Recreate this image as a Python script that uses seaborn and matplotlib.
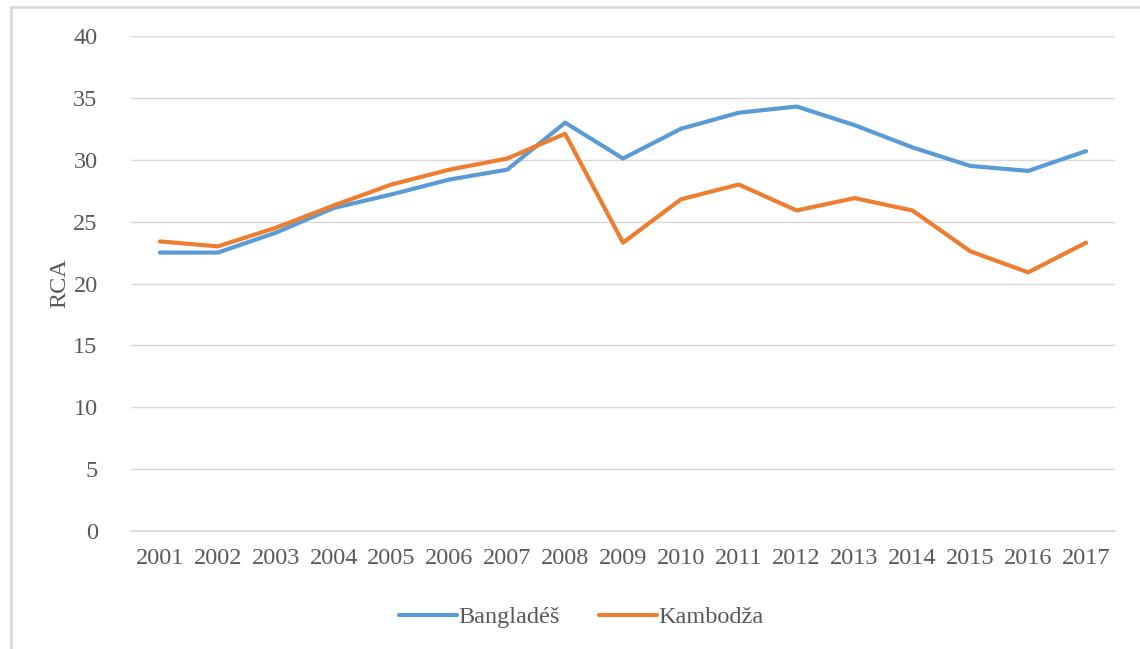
# Índice RCA: Bangladéš vs Kambodža
import pandas as pd
import matplotlib.pyplot as plt
import seaborn as sns
from matplotlib.lines import Line2D

roky = [2001, 2002, 2003, 2004, 2005, 2006, 2007, 2008, 2009,
        2010, 2011, 2012, 2013, 2014, 2015, 2016, 2017]
banglades = [22.5, 22.5, 24.1, 26.1, 27.2, 28.4, 29.2, 33.0, 30.1,
             32.5, 33.8, 34.3, 32.8, 31.0, 29.5, 29.1, 30.7]
kambodza = [23.4, 23.0, 24.5, 26.3, 28.0, 29.2, 30.1, 32.1, 23.3,
            26.8, 28.0, 25.9, 26.9, 25.9, 22.6, 20.9, 23.3]
zeme = ['Bangladéš', 'Kambodža']
yticks = [0, 5, 10, 15, 20, 25, 30, 35, 40]

df = pd.DataFrame({
    'rok': roky * 2,
    'RCA': banglades + kambodza,
    'zeme': [zeme[0]] * len(roky) + [zeme[1]] * len(roky),
})

sns.set_theme(style="white")
plt.rcParams['font.family'] = ['Liberation Serif', 'DejaVu Serif']
sedy = '#595959'
fs = 17.5

fig = plt.figure(figsize=(11.4, 6.49), dpi=100)
ax = fig.add_axes([131 / 1140, 1 - 531 / 649, 984 / 1140, 495 / 649])

sns.lineplot(data=df, x='rok', y='RCA', hue='zeme', hue_order=zeme,
             palette=['#5B9BD5', '#ED7D31'], linewidth=3, ax=ax, legend=False)

ax.set_xlim(roky[0] - 0.5, roky[-1] + 0.5)
ax.set_ylim(0, 40)
ax.set_xticks(roky)
ax.set_xticklabels([str(r) for r in roky])
ax.set_yticks(yticks)
ax.grid(axis='y', color='#D9D9D9', linewidth=1)
ax.set_axisbelow(True)
for s in ax.spines.values():
    s.set_visible(False)
ax.spines['bottom'].set_visible(True)
ax.spines['bottom'].set_color('#D9D9D9')
ax.tick_params(axis='both', colors=sedy, labelsize=fs, length=0)
ax.tick_params(axis='x', pad=12)
ax.tick_params(axis='y', pad=24)
ax.set_xlabel('')
ax.set_ylabel('RCA', fontsize=fs, color=sedy, labelpad=2)

handles = [Line2D([0], [0], color='#5B9BD5', lw=3),
           Line2D([0], [0], color='#ED7D31', lw=3)]
fig.legend(handles, zeme, loc='center', bbox_to_anchor=(0.51, 0.049),
           ncol=2, frameon=False, fontsize=fs, handlelength=2.4,
           handletextpad=0.05, columnspacing=1.6, labelcolor=sedy)

# rámeček grafu (jen horní a levý okraj je vidět)
fig.add_artist(Line2D([11 / 1140, 11 / 1140], [0, 1 - 7 / 649],
                      transform=fig.transFigure, color='#D9D9D9', lw=2))
fig.add_artist(Line2D([11 / 1140, 1], [1 - 7 / 649, 1 - 7 / 649],
                      transform=fig.transFigure, color='#D9D9D9', lw=2))

fig.savefig('out.png', dpi=100)
